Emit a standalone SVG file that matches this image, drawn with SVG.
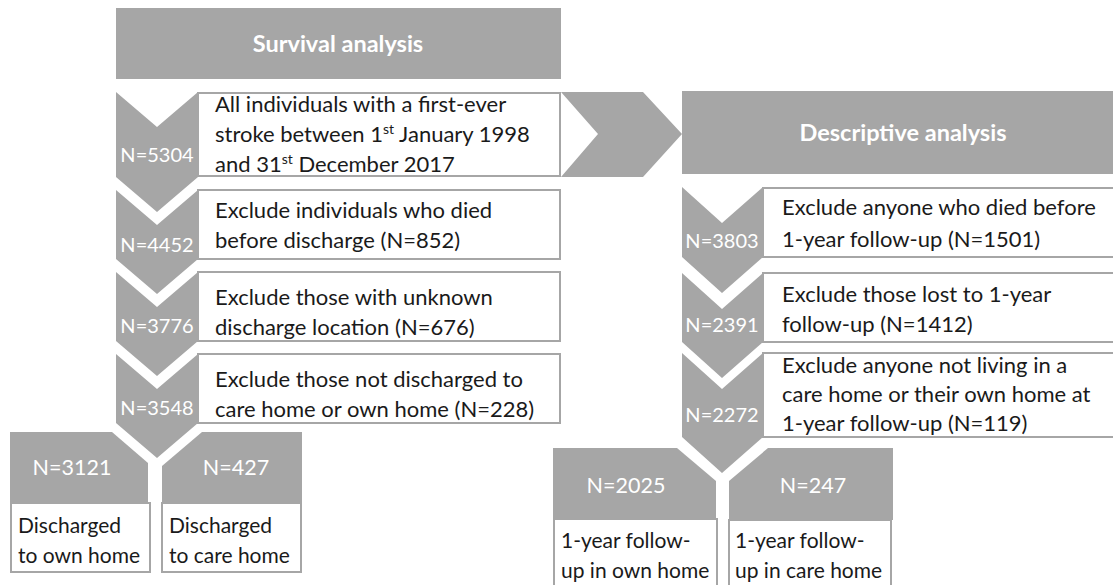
<svg xmlns="http://www.w3.org/2000/svg" width="1113" height="585" viewBox="0 0 1113 585">
<style>
.g{fill:#a6a6a6}
.box{fill:#fff;stroke:#a6a6a6;stroke-width:2}
.t{font-family:Lato,"Open Sans","Liberation Sans",sans-serif;font-size:22px;fill:#1a1a1a}
.b{font-family:Lato,"Open Sans","Liberation Sans",sans-serif;font-size:21px;fill:#1a1a1a}
.n{font-family:Lato,"Open Sans","Liberation Sans",sans-serif;font-size:20px;fill:#fff;text-anchor:middle}
.m{font-family:Lato,"Open Sans","Liberation Sans",sans-serif;font-size:21.5px;fill:#fff;text-anchor:middle}
.h{font-family:Lato,"Open Sans","Liberation Sans",sans-serif;font-size:23.5px;font-weight:bold;fill:#fff;text-anchor:middle}
.sup{font-size:14px}
</style>
<rect width="1113" height="585" fill="#fff"/>
<g id="connectors">
<polygon class="g" points="561,92 643,92 682,134 643,177 561,177 598,134"/>
</g>
<g id="survival-header">
<rect class="g" x="116" y="8" width="445" height="71"/>
<text class="h" x="338" y="52">Survival analysis</text>
</g>
<g id="s1">
<rect class="box" x="198" y="93" width="362" height="83"/>
<polygon class="g" points="116,92 157,127 198,92 198,177 157,212 116,177"/>
<text class="n" x="157" y="162">N=5304</text>
<text class="t" x="215" y="112">All individuals with a first-ever</text>
<text class="t" x="215" y="142">stroke between 1<tspan class="sup" dy="-8">st</tspan><tspan dy="8"> January 1998</tspan></text>
<text class="t" x="215" y="172">and 31<tspan class="sup" dy="-8">st</tspan><tspan dy="8"> December 2017</tspan></text>
</g>
<g id="s2">
<rect class="box" x="198" y="190" width="362" height="69"/>
<polygon class="g" points="116,190 157,225 198,190 198,259 157,294 116,259"/>
<text class="n" x="157" y="252">N=4452</text>
<text class="t" x="215" y="218">Exclude individuals who died</text>
<text class="t" x="215" y="248">before discharge (N=852)</text>
</g>
<g id="s3">
<rect class="box" x="198" y="272" width="362" height="69"/>
<polygon class="g" points="116,272 157,307 198,272 198,341 157,376 116,341"/>
<text class="n" x="157" y="333">N=3776</text>
<text class="t" x="215" y="305">Exclude those with unknown</text>
<text class="t" x="215" y="335">discharge location (N=676)</text>
</g>
<g id="s4">
<rect class="box" x="198" y="354" width="362" height="69"/>
<polygon class="g" points="116,354 157,389 198,354 198,423 157,458 116,423"/>
<text class="n" x="157" y="415">N=3548</text>
<text class="t" x="215" y="387">Exclude those not discharged to</text>
<text class="t" x="215" y="417">care home or own home (N=228)</text>
</g>
<g id="s-own">
<polygon class="g" points="10,432 112,432 148,463 148,503 10,503"/>
<rect class="box" x="11" y="503" width="139" height="69"/>
<text class="m" x="72" y="475">N=3121</text>
<text class="b" x="18" y="533">Discharged</text>
<text class="b" x="18" y="563">to own home</text>
</g>
<g id="s-care">
<polygon class="g" points="162,466 202,432 302,432 302,503 162,503"/>
<rect class="box" x="162" y="503" width="139" height="69"/>
<text class="m" x="236" y="475">N=427</text>
<text class="b" x="169" y="533">Discharged</text>
<text class="b" x="169" y="563">to care home</text>
</g>
<g id="descriptive-header">
<rect class="g" x="682" y="91" width="440" height="83"/>
<text class="h" x="903" y="141">Descriptive analysis</text>
</g>
<g id="d1">
<rect class="box" x="763" y="188" width="360" height="69"/>
<polygon class="g" points="682,187 722,223 763,187 763,257 722,293 682,257"/>
<text class="n" x="722" y="248">N=3803</text>
<text class="t" x="782" y="215">Exclude anyone who died before</text>
<text class="t" x="782" y="247">1-year follow-up (N=1501)</text>
</g>
<g id="d2">
<rect class="box" x="763" y="273" width="360" height="69"/>
<polygon class="g" points="682,273 722,309 763,273 763,342 722,378 682,342"/>
<text class="n" x="722" y="332">N=2391</text>
<text class="t" x="782" y="302">Exclude those lost to 1-year</text>
<text class="t" x="782" y="332">follow-up (N=1412)</text>
</g>
<g id="d3">
<rect class="box" x="763" y="353" width="360" height="84"/>
<polygon class="g" points="682,353 722,389 763,353 763,437 722,473 682,437"/>
<text class="n" x="722" y="422">N=2272</text>
<text class="t" x="782" y="373">Exclude anyone not living in a</text>
<text class="t" x="782" y="402">care home or their own home at</text>
<text class="t" x="782" y="431">1-year follow-up (N=119)</text>
</g>
<g id="d-own">
<polygon class="g" points="553,448 677,448 716,481 716,519 553,519"/>
<rect class="box" x="554" y="519" width="163" height="80"/>
<text class="m" x="626" y="493">N=2025</text>
<text class="b" x="561" y="548">1-year follow-</text>
<text class="b" x="561" y="578">up in own home</text>
</g>
<g id="d-care">
<polygon class="g" points="729,481 768,448 893,448 893,520 729,520"/>
<rect class="box" x="729" y="520" width="162" height="80"/>
<text class="m" x="813" y="493">N=247</text>
<text class="b" x="735" y="548">1-year follow-</text>
<text class="b" x="735" y="578">up in care home</text>
</g>
</svg>
